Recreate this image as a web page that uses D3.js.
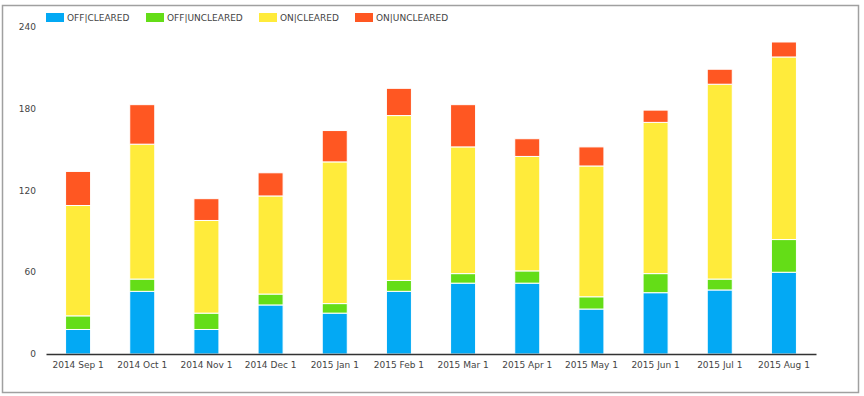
<!DOCTYPE html>
<html>
<head>
<meta charset="utf-8">
<script src="https://cdn.jsdelivr.net/npm/d3@7"></script>
<style>
  html, body { margin: 0; padding: 0; background: #fff; }
  svg { display: block; font-family: "DejaVu Sans", Verdana, sans-serif; }
</style>
</head>
<body>
<svg id="chart" width="864" height="396"></svg>
<script>
const months = ['2014 Sep 1', '2014 Oct 1', '2014 Nov 1', '2014 Dec 1', '2015 Jan 1', '2015 Feb 1',
  '2015 Mar 1', '2015 Apr 1', '2015 May 1', '2015 Jun 1', '2015 Jul 1', '2015 Aug 1'];
const seriesNames = ['OFF|CLEARED', 'OFF|UNCLEARED', 'ON|CLEARED', 'ON|UNCLEARED'];
const offCleared = [18, 46, 18, 36, 30, 46, 52, 52, 33, 45, 47, 60];
const offUncleared = [10, 9, 12, 8, 7, 8, 7, 9, 9, 14, 8, 24];
const onCleared = [81, 99, 68, 72, 104, 121, 93, 84, 96, 111, 143, 134];
const onUncleared = [25, 29, 16, 17, 23, 20, 31, 13, 14, 9, 11, 11];
const yTicks = [0, 60, 120, 180, 240];
const colors = ['#03a9f4', '#64dd17', '#ffeb3b', '#ff5722'];

const svg = d3.select('#chart');
const MARGIN = { top: 27, right: 48, bottom: 42, left: 46 };
const WIDTH = 864 - MARGIN.left - MARGIN.right;
const HEIGHT = 396 - MARGIN.top - MARGIN.bottom;

// frame
svg.append('rect')
  .attr('x', 2.5).attr('y', 5.5)
  .attr('width', 856).attr('height', 387)
  .attr('fill', 'none')
  .attr('stroke', '#a0a0a0')
  .attr('stroke-width', 1.5);

const rows = months.map((m, i) => ({
  month: m,
  [seriesNames[0]]: offCleared[i],
  [seriesNames[1]]: offUncleared[i],
  [seriesNames[2]]: onCleared[i],
  [seriesNames[3]]: onUncleared[i]
}));
const stacked = d3.stack().keys(seriesNames)(rows);

const x = d3.scaleBand().domain(months).range([0, WIDTH]).paddingInner(0.61).paddingOuter(0.305);
const y = d3.scaleLinear().domain([0, 240]).range([HEIGHT, 0]);

const g = svg.append('g').attr('transform', `translate(${MARGIN.left},${MARGIN.top})`);

// y tick labels, no axis line
g.selectAll('.ytick')
  .data(yTicks)
  .enter()
  .append('text')
  .attr('x', -10)
  .attr('y', d => y(d))
  .attr('dy', '0.35em')
  .attr('text-anchor', 'end')
  .style('font-size', '9px')
  .style('fill', '#444')
  .text(d => d);

// bars
g.selectAll('.layer')
  .data(stacked)
  .enter()
  .append('g')
  .attr('fill', (d, i) => colors[i])
  .selectAll('rect')
  .data(d => d)
  .enter()
  .append('rect')
  .attr('x', d => x(d.data.month))
  .attr('y', d => y(d[1]))
  .attr('width', x.bandwidth())
  .attr('height', d => y(d[0]) - y(d[1]))
  .attr('stroke', '#fff')
  .attr('stroke-width', 1);

// x axis
const xAxis = g.append('g')
  .attr('transform', `translate(0,${HEIGHT})`)
  .call(d3.axisBottom(x).tickSize(0).tickPadding(8));
xAxis.select('.domain').attr('stroke', '#333').attr('stroke-width', 1.5);
xAxis.selectAll('text')
  .style('font-size', '9px')
  .style('font-family', '"DejaVu Sans", Verdana, sans-serif')
  .style('fill', '#444');

// legend
const legendX = [46, 146, 259, 355];
const legend = svg.append('g')
  .selectAll('.legend-item')
  .data(seriesNames)
  .enter()
  .append('g')
  .attr('transform', (d, i) => `translate(${legendX[i]},13)`);
legend.append('rect')
  .attr('width', 18).attr('height', 9)
  .attr('fill', (d, i) => colors[i]);
legend.append('text')
  .attr('x', 21)
  .attr('y', 4.5)
  .attr('dy', '0.35em')
  .style('font-size', '9px')
  .style('fill', '#444')
  .text(d => d);
</script>
</body>
</html>
